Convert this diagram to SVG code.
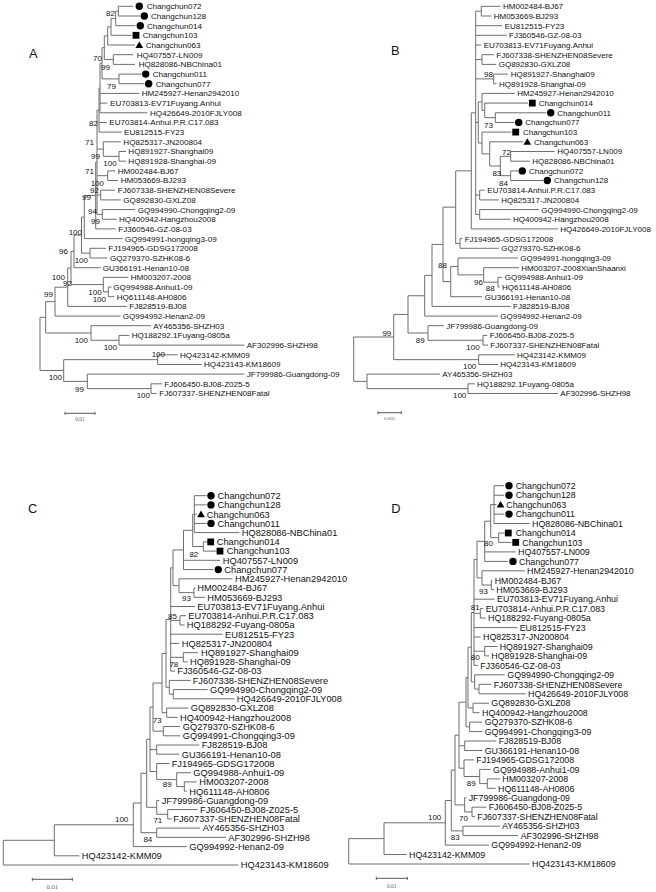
<svg xmlns="http://www.w3.org/2000/svg" xmlns:xlink="http://www.w3.org/1999/xlink" width="656" height="892" viewBox="0 0 656 892">
<defs>
<style>
.br{fill:none;stroke:#6e6e6e;stroke-width:1}
.sb{fill:none;stroke:#555;stroke-width:1}
text{font-family:"Liberation Sans",Arial,sans-serif;fill:#111}
.fa text{font-size:8.1px}
.fb text{font-size:8px}
.fc text{font-size:9.3px}
.fd text{font-size:8.85px}
.bs text{font-size:8px;text-anchor:end}
.pl{font-size:12.8px}
.sc{font-family:"Liberation Serif","Times New Roman",serif;fill:#666;text-anchor:middle}
.mk{fill:#000}
</style>
<circle id="dot" r="3.7"/>
<rect id="sq" x="-3.4" y="-3.4" width="6.8" height="6.8"/>
<path id="tri" d="M0 -3.6L3.9 3L-3.9 3Z"/>
</defs>
<rect width="656" height="892" fill="#fff"/>

<!-- ================= PANEL A ================= -->
<g id="panel-A">
<text class="pl" x="29" y="58.3">A</text>
<g id="A-connectors">
<path class="br" d="M118.3 6.3V16M118.3 6.3H133M118.3 16H140M115.7 11.15V25.7M115.7 11.15H118.3M115.7 25.7H135.5M111 18.4V35.3M111 18.4H115.7M111 35.3H131.7M107.7 26.85V45M107.7 26.85H111M107.7 45H135M113.3 54.7V64.4M113.3 54.7H133M113.3 64.4H135M104.3 35.9V59.55M104.3 35.9H107.7M104.3 59.55H113.3M119 74.1V83.7M119 74.1H141.7M119 83.7H144.3M102 47.7V78.9M102 47.7H104.3M102 78.9H119M100 63.3V112.8M100 63.3H102M100 93.4H139.3M100 103.1H107.3M100 112.8H147.3M99 88.05V132.1M99 88.05H100M99 122.5H106.7M99 132.1H121.7M119 151.5V161.2M119 151.5H126M119 161.2H126M103.3 141.8V156.35M103.3 141.8H120.7M103.3 156.35H119M107.7 170.9V180.5M107.7 170.9H115M107.7 180.5H118M100.7 190.2V199.9M100.7 190.2H115M100.7 199.9H120.7M102.3 209.6V219.3M102.3 209.6H135M102.3 219.3H116.7M97 110.1V214.45M97 110.1H99M97 149.1H103.3M97 175.7H107.7M97 195.05H100.7M97 214.45H102.3M95.7 162.3V228.9M95.7 162.3H97M95.7 228.9H115.7M84.3 195.6V238.6M84.3 195.6H95.7M84.3 238.6H122.7M90 248.3V258M90 248.3H106M90 258H107.3M81.5 217.1V253.15M81.5 217.1H84.3M81.5 253.15H90M74 235.1V267.7M74 235.1H81.5M74 267.7H100.7M108.3 287V296.7M108.3 287H111.7M108.3 296.7H114.3M103.3 277.3V291.85M103.3 277.3H128.3M103.3 291.85H108.3M71 251.4V284.6M71 251.4H74M71 284.6H103.3M67.7 268V306.4M67.7 268H71M67.7 306.4H126.7M55 287.2V316.1M55 287.2H67.7M55 316.1H120.7M119 335.4V345.1M119 335.4H129.3M119 345.1H244.3M91 325.7V340.25M91 325.7H151M91 340.25H119M45.7 301.65V333M45.7 301.65H55M45.7 333H91M157.7 354.8V364.5M157.7 354.8H177.7M157.7 364.5H201.7M151 383.8V393.5M151 383.8H162.3M151 393.5H156.7M87.3 374.1V388.65M87.3 374.1H244.3M87.3 388.65H151M63.7 359.65V381.4M63.7 359.65H157.7M63.7 381.4H87.3M40 317.3V370.5M40 317.3H45.7M40 370.5H63.7"/>
</g>
<g class="bs" id="A-support">
<text x="115" y="16.2">82</text><text x="102" y="61.2">70</text><text x="110" y="69.6">99</text><text x="116" y="88.9">79</text><text x="98" y="125.6">82</text><text x="94" y="144.9">71</text><text x="100" y="158.6">99</text><text x="116.7" y="166.2">100</text><text x="94" y="173.9">71</text><text x="104" y="185.6">100</text><text x="99" y="192.9">92</text><text x="91" y="200.2">99</text><text x="97" y="214.2">94</text><text x="100" y="223.6">99</text><text x="82" y="235.2">100</text><text x="68" y="253.9">96</text><text x="88" y="262.9">100</text><text x="65" y="279.6">100</text><text x="72" y="285.6">92</text><text x="101.7" y="294.6">100</text><text x="106" y="301.9">100</text><text x="53" y="296.9">99</text><text x="88" y="342.9">100</text><text x="117" y="349.6">100</text><text x="165" y="356.9">100</text><text x="62" y="380.2">100</text><text x="84" y="392.2">99</text><text x="150" y="397.9">100</text>
</g>
<g class="fa" id="A-leaves">
<g id="A-L00"><use href="#dot" class="mk" x="139.3" y="6.3"/><text x="146.7" y="9.2">Changchun072</text></g>
<g id="A-L01"><use href="#dot" class="mk" x="144.3" y="16"/><text x="151" y="18.9">Changchun128</text></g>
<g id="A-L02"><use href="#dot" class="mk" x="140.3" y="25.7"/><text x="147" y="28.6">Changchun014</text></g>
<g id="A-L03"><use href="#sq" class="mk" x="136" y="35.3"/><text x="142.7" y="38.2">Changchun103</text></g>
<g id="A-L04"><use href="#tri" class="mk" x="139.3" y="45"/><text x="145.7" y="47.9">Changchun063</text></g>
<g id="A-L05"><text x="136.7" y="57.6">HQ407557-LN009</text></g>
<g id="A-L06"><text x="138.7" y="67.3">HQ828086-NBChina01</text></g>
<g id="A-L07"><use href="#dot" class="mk" x="145.7" y="74.1"/><text x="152.7" y="77">Changchun011</text></g>
<g id="A-L08"><use href="#dot" class="mk" x="148.7" y="83.7"/><text x="155.7" y="86.6">Changchun077</text></g>
<g id="A-L09"><text x="141.7" y="96.3">HM245927-Henan2942010</text></g>
<g id="A-L10"><text x="110" y="106">EU703813-EV71Fuyang.Anhui</text></g>
<g id="A-L11"><text x="150" y="115.7">HQ426649-2010FJLY008</text></g>
<g id="A-L12"><text x="109.3" y="125.4">EU703814-Anhui.P.R.C17.083</text></g>
<g id="A-L13"><text x="124" y="135">EU812515-FY23</text></g>
<g id="A-L14"><text x="123.3" y="144.7">HQ825317-JN200804</text></g>
<g id="A-L15"><text x="128.3" y="154.4">HQ891927-Shanghai09</text></g>
<g id="A-L16"><text x="128.3" y="164.1">HQ891928-Shanghai-09</text></g>
<g id="A-L17"><text x="117.7" y="173.8">HM002484-BJ67</text></g>
<g id="A-L18"><text x="120.7" y="183.4">HM053669-BJ293</text></g>
<g id="A-L19"><text x="117.7" y="193.1">FJ607338-SHENZHEN08Severe</text></g>
<g id="A-L20"><text x="123.3" y="202.8">GQ892830-GXLZ08</text></g>
<g id="A-L21"><text x="137.7" y="212.5">GQ994990-Chongqing2-09</text></g>
<g id="A-L22"><text x="119" y="222.2">HQ400942-Hangzhou2008</text></g>
<g id="A-L23"><text x="118.3" y="231.8">FJ360546-GZ-08-03</text></g>
<g id="A-L24"><text x="125" y="241.5">GQ994991-hongqing3-09</text></g>
<g id="A-L25"><text x="108.3" y="251.2">FJ194965-GDSG172008</text></g>
<g id="A-L26"><text x="110" y="260.9">GQ279370-SZHK08-6</text></g>
<g id="A-L27"><text x="102.7" y="270.6">GU366191-Henan10-08</text></g>
<g id="A-L28"><text x="130.7" y="280.2">HM003207-2008</text></g>
<g id="A-L29"><text x="113.3" y="289.9">GQ994988-Anhui1-09</text></g>
<g id="A-L30"><text x="116.7" y="299.6">HQ611148-AH0806</text></g>
<g id="A-L31"><text x="129.3" y="309.3">FJ828519-BJ08</text></g>
<g id="A-L32"><text x="122.7" y="319">GQ994992-Henan2-09</text></g>
<g id="A-L33"><text x="153.3" y="328.6">AY465356-SHZH03</text></g>
<g id="A-L34"><text x="131.7" y="338.3">HQ188292.1Fuyang-0805a</text></g>
<g id="A-L35"><text x="246.7" y="348">AF302996-SHZH98</text></g>
<g id="A-L36"><text x="180" y="357.7">HQ423142-KMM09</text></g>
<g id="A-L37"><text x="204" y="367.4">HQ423143-KM18609</text></g>
<g id="A-L38"><text x="246.7" y="377">JF799986-Guangdong-09</text></g>
<g id="A-L39"><text x="164.3" y="386.7">FJ606450-BJ08-Z025-5</text></g>
<g id="A-L40"><text x="159.3" y="396.4">FJ607337-SHENZHEN08Fatal</text></g>
</g>
<g id="A-scale"><path class="sb" d="M65 413.3H95M65 411.8V414.8M95 411.8V414.8"/><text class="sc" x="80" y="421" font-size="5.5">0.01</text></g>
</g>

<!-- ================= PANEL B ================= -->
<g id="panel-B">
<text class="pl" x="391" y="55">B</text>
<g id="B-connectors">
<path class="br" d="M481.3 6.3V16M481.3 6.3H500.7M481.3 16H491.3M482 54.7V64.4M482 54.7H494M482 64.4H496.3M493.7 74.1V83.7M493.7 74.1H508M493.7 83.7H496.7M495.3 112.8V122.5M495.3 112.8H546.3M495.3 122.5H514.7M484.7 103.1V117.65M484.7 103.1H528M484.7 117.65H495.3M482 93.4V110.4M482 93.4H514.7M482 110.4H484.7M510.7 151.5V161.2M510.7 151.5H554.7M510.7 161.2H530M510.7 170.9V180.5M510.7 170.9H518.7M510.7 180.5H543M500.3 156.35V175.7M500.3 156.35H510.7M500.3 175.7H510.7M489.7 141.8V166M489.7 141.8H523M489.7 166H500.3M482 132.1V153.9M482 132.1H511.3M482 153.9H489.7M478.3 101.9V143M478.3 101.9H482M478.3 143H482M479.7 190.2V199.9M479.7 190.2H484.7M479.7 199.9H498.7M479.7 209.6V219.3M479.7 209.6H539M479.7 219.3H510.7M475.7 11.15V214.45M475.7 11.15H481.3M475.7 25.7H502M475.7 35.3H506.7M475.7 45H481.3M475.7 59.55H482M475.7 78.9H493.7M475.7 122.45H478.3M475.7 195.05H479.7M475.7 214.45H479.7M471.3 112.8V228.9M471.3 112.8H475.7M471.3 228.9H558M460 238.6V248.3M460 238.6H462.3M460 248.3H498.7M455.7 170.85V243.45M455.7 170.85H471.3M455.7 243.45H460M498 277.3V287M498 277.3H502.3M498 287H499.7M483.7 267.7V282.15M483.7 267.7H519M483.7 282.15H498M458 258V274.9M458 258H518M458 274.9H483.7M450.7 266.45V296.7M450.7 266.45H458M450.7 296.7H482M443 207.15V281.6M443 207.15H455.7M443 281.6H450.7M432 244.4V306.4M432 244.4H443M432 306.4H510.7M424.7 275.4V316.1M424.7 275.4H432M424.7 316.1H498M483 335.4V345.1M483 335.4H487.3M483 345.1H488M428 325.7V340.25M428 325.7H444M428 340.25H483M408 295.75V333M408 295.75H424.7M408 333H428M478.7 354.8V364.5M478.7 354.8H514.7M478.7 364.5H498M393.7 314.4V359.65M393.7 314.4H408M393.7 359.65H478.7M468 383.8V393.5M468 383.8H474.7M468 393.5H558M367 374.1V388.65M367 374.1H440M367 388.65H468M353.7 337V381.4M353.7 337H393.7M353.7 381.4H367"/>
</g>
<g class="bs" id="B-support">
<text x="493" y="76.9">98</text><text x="493" y="127.9">73</text><text x="511" y="154.6">72</text><text x="501.3" y="176.2">83</text><text x="508" y="185.6">84</text><text x="447" y="267.9">88</text><text x="483" y="284.6">96</text><text x="494.7" y="291.2">88</text><text x="391.3" y="336.2">99</text><text x="424.7" y="342.9">89</text><text x="479.7" y="349.6">100</text><text x="476.3" y="368.9">100</text><text x="466.3" y="397.9">100</text>
</g>
<g class="fb" id="B-leaves">
<g id="B-L00"><text x="503" y="9.2">HM002484-BJ67</text></g>
<g id="B-L01"><text x="493.7" y="18.9">HM053669-BJ293</text></g>
<g id="B-L02"><text x="504.7" y="28.6">EU812515-FY23</text></g>
<g id="B-L03"><text x="509" y="38.2">FJ360546-GZ-08-03</text></g>
<g id="B-L04"><text x="483.7" y="47.9">EU703813-EV71Fuyang.Anhui</text></g>
<g id="B-L05"><text x="496.3" y="57.6">FJ607338-SHENZHEN08Severe</text></g>
<g id="B-L06"><text x="498.7" y="67.3">GQ892830-GXLZ08</text></g>
<g id="B-L07"><text x="510.7" y="77">HQ891927-Shanghai09</text></g>
<g id="B-L08"><text x="499" y="86.6">HQ891928-Shanghai-09</text></g>
<g id="B-L09"><text x="517.3" y="96.3">HM245927-Henan2942010</text></g>
<g id="B-L10"><use href="#sq" class="mk" x="532.3" y="103.1"/><text x="538.7" y="106">Changchun014</text></g>
<g id="B-L11"><use href="#dot" class="mk" x="550.7" y="112.8"/><text x="557.3" y="115.7">Changchun011</text></g>
<g id="B-L12"><use href="#dot" class="mk" x="518.7" y="122.5"/><text x="525.3" y="125.4">Changchun077</text></g>
<g id="B-L13"><use href="#sq" class="mk" x="515.7" y="132.1"/><text x="523" y="135">Changchun103</text></g>
<g id="B-L14"><use href="#tri" class="mk" x="527.3" y="141.8"/><text x="534" y="144.7">Changchun063</text></g>
<g id="B-L15"><text x="557.3" y="154.4">HQ407557-LN009</text></g>
<g id="B-L16"><text x="532.3" y="164.1">HQ828086-NBChina01</text></g>
<g id="B-L17"><use href="#dot" class="mk" x="522.3" y="170.9"/><text x="529" y="173.8">Changchun072</text></g>
<g id="B-L18"><use href="#dot" class="mk" x="547.3" y="180.5"/><text x="554" y="183.4">Changchun128</text></g>
<g id="B-L19"><text x="487.3" y="193.1">EU703814-Anhui.P.R.C17.083</text></g>
<g id="B-L20"><text x="501.3" y="202.8">HQ825317-JN200804</text></g>
<g id="B-L21"><text x="541.3" y="212.5">GQ994990-Chongqing2-09</text></g>
<g id="B-L22"><text x="513" y="222.2">HQ400942-Hangzhou2008</text></g>
<g id="B-L23"><text x="560.3" y="231.8">HQ426649-2010FJLY008</text></g>
<g id="B-L24"><text x="464.7" y="241.5">FJ194965-GDSG172008</text></g>
<g id="B-L25"><text x="501.3" y="251.2">GQ279370-SZHK08-6</text></g>
<g id="B-L26"><text x="520.3" y="260.9">GQ994991-hongqing3-09</text></g>
<g id="B-L27"><text x="521.3" y="270.6">HM003207-2008XianShaanxi</text></g>
<g id="B-L28"><text x="504.7" y="280.2">GQ994988-Anhui1-09</text></g>
<g id="B-L29"><text x="502" y="289.9">HQ611148-AH0806</text></g>
<g id="B-L30"><text x="484.7" y="299.6">GU366191-Henan10-08</text></g>
<g id="B-L31"><text x="513" y="309.3">FJ828519-BJ08</text></g>
<g id="B-L32"><text x="500.3" y="319">GQ994992-Henan2-09</text></g>
<g id="B-L33"><text x="446.3" y="328.6">JF799986-Guangdong-09</text></g>
<g id="B-L34"><text x="489.7" y="338.3">FJ606450-BJ08-Z025-5</text></g>
<g id="B-L35"><text x="490.3" y="348">FJ607337-SHENZHEN08Fatal</text></g>
<g id="B-L36"><text x="517" y="357.7">HQ423142-KMM09</text></g>
<g id="B-L37"><text x="500.3" y="367.4">HQ423143-KM18609</text></g>
<g id="B-L38"><text x="442.3" y="377">AY465356-SHZH03</text></g>
<g id="B-L39"><text x="477" y="386.7">HQ188292.1Fuyang-0805a</text></g>
<g id="B-L40"><text x="560.3" y="396.4">AF302996-SHZH98</text></g>
</g>
<g id="B-scale"><path class="sb" d="M378 412.7H401.3M378 411.2V414.2M401.3 411.2V414.2"/><text class="sc" x="389.7" y="420" font-size="5">0.005</text></g>
</g>

<!-- ================= PANEL C ================= -->
<g id="panel-C">
<text class="pl" x="28" y="513.3">C</text>
<g id="C-connectors">
<path class="br" d="M194.3 495.7V532.6M194.3 495.7H206.7M194.3 504.9H206.7M194.3 514.2H196.7M194.3 523.4H206.7M194.3 532.6H239.3M203.3 541.9V551.1M203.3 541.9H207.3M203.3 551.1H216.7M192.7 514.15V546.5M192.7 514.15H194.3M192.7 546.5H203.3M183.5 530.3V569.6M183.5 530.3H192.7M183.5 560.3H220M183.5 569.6H213.3M194 588V597.3M194 588H195.5M194 597.3H205M179 578.8V592.65M179 578.8H232.5M179 592.65H194M173 549.95V585.7M173 549.95H183.5M173 585.7H179M180 615.7V625M180 615.7H186M180 625H184.5M183.3 652.7V661.9M183.3 652.7H198.3M183.3 661.9H187.7M170.7 567.8V671.1M170.7 567.8H173M170.7 606.5H195M170.7 620.35H180M170.7 634.2H222.7M170.7 643.4H179.3M170.7 657.3H183.3M170.7 671.1H175M173.3 689.6V698.8M173.3 689.6H207.7M173.3 698.8H234.3M169.3 680.4V694.2M169.3 680.4H190.7M169.3 694.2H173.3M166 619.45V687.3M166 619.45H170.7M166 687.3H169.3M166.7 708.1V717.3M166.7 708.1H188.3M166.7 717.3H177.7M162 653.4V712.7M162 653.4H166M162 712.7H166.7M163.3 726.5V735.8M163.3 726.5H180M163.3 735.8H180M153 683.05V731.15M153 683.05H162M153 731.15H163.3M156.7 745V754.2M156.7 745H199.3M156.7 754.2H179.3M184.3 781.9V791.2M184.3 781.9H196.7M184.3 791.2H186.7M176.7 772.7V786.55M176.7 772.7H191M176.7 786.55H184.3M156.7 763.5V779.6M156.7 763.5H169.3M156.7 779.6H176.7M150 707.1V771.55M150 707.1H153M150 749.6H156.7M150 771.55H156.7M167.7 809.6V818.9M167.7 809.6H197.7M167.7 818.9H171.7M156.7 800.4V814.25M156.7 800.4H159.3M156.7 814.25H167.7M146.7 739.3V807.3M146.7 739.3H150M146.7 807.3H156.7M156.7 828.1V837.3M156.7 828.1H200M156.7 837.3H226M141 773.3V832.7M141 773.3H146.7M141 832.7H156.7M133.3 803V846.6M133.3 803H141M133.3 846.6H186.7M54.3 824.8V855.8M54.3 824.8H133.3M54.3 855.8H79.3M3.3 840.3V865M3.3 840.3H54.3M3.3 865H238.3"/>
</g>
<g class="bs" id="C-support">
<text x="198.3" y="556.9">82</text><text x="191" y="600.6">93</text><text x="177" y="618.9">85</text><text x="178.3" y="666.9">78</text><text x="161.7" y="722.9">73</text><text x="171.7" y="787.2">89</text><text x="128.3" y="822.2">100</text><text x="162.3" y="822.9">71</text><text x="152.3" y="842.2">84</text>
</g>
<g class="fc" id="C-leaves">
<g id="C-L00"><use href="#dot" class="mk" x="211" y="495.7"/><text x="217.5" y="499">Changchun072</text></g>
<g id="C-L01"><use href="#dot" class="mk" x="211" y="504.9"/><text x="217.5" y="508.2">Changchun128</text></g>
<g id="C-L02"><use href="#tri" class="mk" x="201" y="514.2"/><text x="206.7" y="517.5">Changchun063</text></g>
<g id="C-L03"><use href="#dot" class="mk" x="211" y="523.4"/><text x="217.5" y="526.7">Changchun011</text></g>
<g id="C-L04"><text x="241.7" y="535.9">HQ828086-NBChina01</text></g>
<g id="C-L05"><use href="#sq" class="mk" x="210.7" y="541.9"/><text x="216.7" y="545.2">Changchun014</text></g>
<g id="C-L06"><use href="#sq" class="mk" x="220" y="551.1"/><text x="226.7" y="554.4">Changchun103</text></g>
<g id="C-L07"><text x="222.7" y="563.6">HQ407557-LN009</text></g>
<g id="C-L08"><use href="#dot" class="mk" x="218.3" y="569.6"/><text x="224.3" y="572.9">Changchun077</text></g>
<g id="C-L09"><text x="235" y="582.1">HM245927-Henan2942010</text></g>
<g id="C-L10"><text x="197.3" y="591.3">HM002484-BJ67</text></g>
<g id="C-L11"><text x="207.3" y="600.6">HM053669-BJ293</text></g>
<g id="C-L12"><text x="197.3" y="609.8">EU703813-EV71Fuyang.Anhui</text></g>
<g id="C-L13"><text x="188.3" y="619">EU703814-Anhui.P.R.C17.083</text></g>
<g id="C-L14"><text x="186.7" y="628.3">HQ188292-Fuyang-0805a</text></g>
<g id="C-L15"><text x="225" y="637.5">EU812515-FY23</text></g>
<g id="C-L16"><text x="181.7" y="646.7">HQ825317-JN200804</text></g>
<g id="C-L17"><text x="201" y="656">HQ891927-Shanghai09</text></g>
<g id="C-L18"><text x="190" y="665.2">HQ891928-Shanghai-09</text></g>
<g id="C-L19"><text x="177.3" y="674.4">FJ360546-GZ-08-03</text></g>
<g id="C-L20"><text x="192.7" y="683.7">FJ607338-SHENZHEN08Severe</text></g>
<g id="C-L21"><text x="210" y="692.9">GQ994990-Chongqing2-09</text></g>
<g id="C-L22"><text x="236.7" y="702.1">HQ426649-2010FJLY008</text></g>
<g id="C-L23"><text x="190.7" y="711.4">GQ892830-GXLZ08</text></g>
<g id="C-L24"><text x="180" y="720.6">HQ400942-Hangzhou2008</text></g>
<g id="C-L25"><text x="182.7" y="729.8">GQ279370-SZHK08-6</text></g>
<g id="C-L26"><text x="182.7" y="739.1">GQ994991-Chongqing3-09</text></g>
<g id="C-L27"><text x="201.7" y="748.3">FJ828519-BJ08</text></g>
<g id="C-L28"><text x="181.7" y="757.5">GU366191-Henan10-08</text></g>
<g id="C-L29"><text x="171.7" y="766.8">FJ194965-GDSG172008</text></g>
<g id="C-L30"><text x="193.3" y="776">GQ994988-Anhui1-09</text></g>
<g id="C-L31"><text x="199.3" y="785.2">HM003207-2008</text></g>
<g id="C-L32"><text x="189.3" y="794.5">HQ611148-AH0806</text></g>
<g id="C-L33"><text x="161.7" y="803.7">JF799986-Guangdong-09</text></g>
<g id="C-L34"><text x="200" y="812.9">FJ606450-BJ08-Z025-5</text></g>
<g id="C-L35"><text x="173.3" y="822.2">FJ607337-SHENZHEN08Fatal</text></g>
<g id="C-L36"><text x="202.7" y="831.4">AY465356-SHZH03</text></g>
<g id="C-L37"><text x="228.3" y="840.6">AF302996-SHZH98</text></g>
<g id="C-L38"><text x="189.3" y="849.9">GQ994992-Henan2-09</text></g>
<g id="C-L39"><text x="81.7" y="859.1">HQ423142-KMM09</text></g>
<g id="C-L40"><text x="240.7" y="868.3">HQ423143-KM18609</text></g>
</g>
<g id="C-scale"><path class="sb" d="M32.3 879.3H72.3M32.3 877.8V880.8M72.3 877.8V880.8"/><text class="sc" x="52.3" y="889" font-size="6.5">0.01</text></g>
</g>

<!-- ================= PANEL D ================= -->
<g id="panel-D">
<text class="pl" x="391.3" y="513.3">D</text>
<g id="D-connectors">
<path class="br" d="M494 485.7V523.5M494 485.7H504M494 495.2H504M494 504.6H496.5M494 514.1H504M494 523.5H529.7M498.7 533V542.4M498.7 533H504.7M498.7 542.4H511.3M490.7 504.6V537.7M490.7 504.6H494M490.7 537.7H498.7M484.7 521.15V561.4M484.7 521.15H490.7M484.7 551.9H515.7M484.7 561.4H508M491.3 580.3V589.7M491.3 580.3H492.3M491.3 589.7H494M482 570.8V585M482 570.8H524.7M482 585H491.3M477 541.3V577.9M477 541.3H484.7M477 577.9H482M480.3 608.6V618.1M480.3 608.6H483.3M480.3 618.1H485.7M484.7 646.5V655.9M484.7 646.5H497.3M484.7 655.9H489M474 559.6V665.4M474 559.6H477M474 599.2H494.7M474 613.35H480.3M474 627.6H517.3M474 637H480.7M474 651.2H484.7M474 665.4H478M479 684.3V693.8M479 684.3H491.3M479 693.8H525.7M474.7 674.8V689.05M474.7 674.8H504.7M474.7 689.05H479M471.3 612.5V681.9M471.3 612.5H474M471.3 681.9H474.7M473 703.2V712.7M473 703.2H489M473 712.7H479.7M468 647.2V707.95M468 647.2H471.3M468 707.95H473M469.7 722.1V731.6M469.7 722.1H482.3M469.7 731.6H482.3M466 677.6V726.85M466 677.6H468M466 726.85H469.7M464.7 741V750.5M464.7 741H496.3M464.7 750.5H482.3M487.3 778.9V788.3M487.3 778.9H500M487.3 788.3H495.7M479.7 769.4V783.6M479.7 769.4H490.7M479.7 783.6H487.3M464 759.9V776.5M464 759.9H474M464 776.5H479.7M459 702.2V768.2M459 702.2H466M459 745.75H464.7M459 768.2H464M472 807.2V816.7M472 807.2H486.3M472 816.7H475M464.7 797.8V811.95M464.7 797.8H466.3M464.7 811.95H472M455 735.2V804.9M455 735.2H459M455 804.9H464.7M463 826.2V835.6M463 826.2H499.7M463 835.6H518M451.3 770.05V830.9M451.3 770.05H455M451.3 830.9H463M445.3 800.5V845.1M445.3 800.5H451.3M445.3 845.1H489M384 822.8V854.5M384 822.8H445.3M384 854.5H406.7M348.7 838.65V864M348.7 838.65H384M348.7 864H529.7"/>
</g>
<g class="bs" id="D-support">
<text x="493" y="546.2">80</text><text x="488" y="593.9">93</text><text x="479.7" y="609.6">81</text><text x="479.7" y="659.6">80</text><text x="475.7" y="786.2">89</text><text x="468" y="821.2">70</text><text x="441.3" y="820.2">100</text><text x="459.7" y="840.2">83</text>
</g>
<g class="fd" id="D-leaves">
<g id="D-L00"><use href="#dot" class="mk" x="509" y="485.7"/><text x="515.7" y="488.9">Changchun072</text></g>
<g id="D-L01"><use href="#dot" class="mk" x="509" y="495.2"/><text x="515.7" y="498.4">Changchun128</text></g>
<g id="D-L02"><use href="#tri" class="mk" x="500.5" y="504.6"/><text x="506.3" y="507.8">Changchun063</text></g>
<g id="D-L03"><use href="#dot" class="mk" x="509" y="514.1"/><text x="515.7" y="517.3">Changchun011</text></g>
<g id="D-L04"><text x="532" y="526.7">HQ828086-NBChina01</text></g>
<g id="D-L05"><use href="#sq" class="mk" x="508.3" y="533"/><text x="515.7" y="536.2">Changchun014</text></g>
<g id="D-L06"><use href="#sq" class="mk" x="515.7" y="542.4"/><text x="522.3" y="545.6">Changchun103</text></g>
<g id="D-L07"><text x="518" y="555.1">HQ407557-LN009</text></g>
<g id="D-L08"><use href="#dot" class="mk" x="513" y="561.4"/><text x="519" y="564.6">Changchun077</text></g>
<g id="D-L09"><text x="527" y="574">HM245927-Henan2942010</text></g>
<g id="D-L10"><text x="494.7" y="583.5">HM002484-BJ67</text></g>
<g id="D-L11"><text x="496.3" y="592.9">HM053669-BJ293</text></g>
<g id="D-L12"><text x="497" y="602.4">EU703813-EV71Fuyang.Anhui</text></g>
<g id="D-L13"><text x="485.7" y="611.8">EU703814-Anhui.P.R.C17.083</text></g>
<g id="D-L14"><text x="488" y="621.3">HQ188292-Fuyang-0805a</text></g>
<g id="D-L15"><text x="519.7" y="630.8">EU812515-FY23</text></g>
<g id="D-L16"><text x="483" y="640.2">HQ825317-JN200804</text></g>
<g id="D-L17"><text x="499.7" y="649.7">HQ891927-Shanghai09</text></g>
<g id="D-L18"><text x="491.3" y="659.1">HQ891928-Shanghai-09</text></g>
<g id="D-L19"><text x="480.3" y="668.6">FJ360546-GZ-08-03</text></g>
<g id="D-L20"><text x="507.3" y="678">GQ994990-Chongqing2-09</text></g>
<g id="D-L21"><text x="493.7" y="687.5">FJ607338-SHENZHEN08Severe</text></g>
<g id="D-L22"><text x="528" y="697">HQ426649-2010FJLY008</text></g>
<g id="D-L23"><text x="491.3" y="706.4">GQ892830-GXLZ08</text></g>
<g id="D-L24"><text x="482" y="715.9">HQ400942-Hangzhou2008</text></g>
<g id="D-L25"><text x="484.7" y="725.3">GQ279370-SZHK08-6</text></g>
<g id="D-L26"><text x="484.7" y="734.8">GQ994991-Chongqing3-09</text></g>
<g id="D-L27"><text x="498.7" y="744.2">FJ828519-BJ08</text></g>
<g id="D-L28"><text x="484.7" y="753.7">GU366191-Henan10-08</text></g>
<g id="D-L29"><text x="476.3" y="763.1">FJ194965-GDSG172008</text></g>
<g id="D-L30"><text x="493" y="772.6">GQ994988-Anhui1-09</text></g>
<g id="D-L31"><text x="502.3" y="782.1">HM003207-2008</text></g>
<g id="D-L32"><text x="498" y="791.5">HQ611148-AH0806</text></g>
<g id="D-L33"><text x="468.7" y="801">JF799986-Guangdong-09</text></g>
<g id="D-L34"><text x="488.7" y="810.4">FJ606450-BJ08-Z025-5</text></g>
<g id="D-L35"><text x="477.3" y="819.9">FJ607337-SHENZHEN08Fatal</text></g>
<g id="D-L36"><text x="502" y="829.4">AY465356-SHZH03</text></g>
<g id="D-L37"><text x="520.7" y="838.8">AF302996-SHZH98</text></g>
<g id="D-L38"><text x="491.3" y="848.3">GQ994992-Henan2-09</text></g>
<g id="D-L39"><text x="409" y="857.7">HQ423142-KMM09</text></g>
<g id="D-L40"><text x="532" y="867.2">HQ423143-KM18609</text></g>
</g>
<g id="D-scale"><path class="sb" d="M376.3 878.3H407.3M376.3 876.8V879.8M407.3 876.8V879.8"/><text class="sc" x="391.8" y="887.5" font-size="5.5">0.01</text></g>
</g>
</svg>
